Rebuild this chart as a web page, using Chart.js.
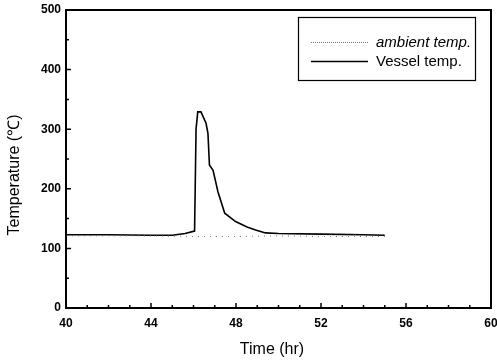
<!DOCTYPE html>
<html>
<head>
<meta charset="utf-8">
<script src="https://cdn.jsdelivr.net/npm/chart.js@4"></script>
<style>
  html, body { margin: 0; padding: 0; background: #fff; }
  #wrap { width: 497px; height: 361px; }
</style>
</head>
<body>
<div id="wrap"><canvas id="chart" width="497" height="361"></canvas></div>
<script>
// vessel temperature
var vesselTime = [40, 42, 44, 45, 45.6, 46.05, 46.08, 46.12, 46.2, 46.35, 46.59, 46.68, 46.75, 46.92, 47.15, 47.47, 47.98, 48.52, 48.92, 49.39, 50, 52, 54, 55];
var vesselTemp = [123, 123, 122, 122, 125, 129, 200, 300, 329, 329, 310, 293, 240, 231, 195, 159, 145, 136, 131, 126, 125, 124, 123, 122];
// ambient temperature, roughly flat
var ambientTime = [40, 44, 46, 48, 50, 52, 55];
var ambientTemp = [121, 121, 120, 120, 121, 120, 120];

var xTicks = [40, 44, 48, 52, 56, 60];
var yTicks = [0, 100, 200, 300, 400, 500];

function pts(xs, ys) {
    return xs.map(function (x, i) { return { x: x, y: ys[i] }; });
}

var FONT = "'Liberation Sans', Arial, sans-serif";

// frame, inward ticks, titles and boxed legend
var framePlugin = {
    id: 'frame',
    afterDraw: function (chart) {
        var ctx = chart.ctx, a = chart.chartArea;
        var xs = chart.scales.x, ys = chart.scales.y;
        ctx.save();
        ctx.strokeStyle = '#000';
        ctx.lineWidth = 2;
        ctx.strokeRect(a.left, a.top, a.right - a.left, a.bottom - a.top);

        ctx.lineWidth = 1.5;
        ctx.beginPath();
        for (var h = 41; h < 60; h++) {
            var len = (h % 4 === 0) ? 5 : 3;
            var px = xs.getPixelForValue(h);
            ctx.moveTo(px, a.bottom); ctx.lineTo(px, a.bottom - len);
        }
        for (var v = 50; v < 500; v += 50) {
            var l2 = (v % 100 === 0) ? 5 : 3;
            var py = ys.getPixelForValue(v);
            ctx.moveTo(a.left, py); ctx.lineTo(a.left + l2, py);
        }
        ctx.stroke();

        // axis titles
        ctx.fillStyle = '#000';
        ctx.font = '16px ' + FONT;
        ctx.textAlign = 'center';
        ctx.textBaseline = 'middle';
        ctx.fillText('Time (hr)', 272, 350);
        ctx.save();
        ctx.translate(15, 175);
        ctx.rotate(-Math.PI / 2);
        ctx.fillText('Temperature (\u2103)', 0, 0);
        ctx.restore();

        // legend
        ctx.lineWidth = 1.2;
        ctx.strokeRect(298.5, 17.5, 177, 63);
        ctx.textAlign = 'left';
        var rows = [42.5, 61.5];
        chart.data.datasets.forEach(function (ds, i) {
            ctx.save();
            ctx.strokeStyle = ds.borderColor;
            ctx.lineWidth = ds.borderWidth;
            ctx.setLineDash(ds.legendDash || []);
            ctx.beginPath();
            ctx.moveTo(311, rows[i]); ctx.lineTo(368, rows[i]);
            ctx.stroke();
            ctx.restore();
            ctx.font = (ds.italic ? 'italic ' : '') + '15px ' + FONT;
            ctx.fillText(ds.label, 376, rows[i]);
        });
        ctx.restore();
    }
};

new Chart(document.getElementById('chart'), {
    type: 'line',
    data: {
        datasets: [
            {
                label: 'ambient temp.',
                data: pts(ambientTime, ambientTemp),
                borderColor: '#777',
                borderWidth: 1,
                borderDash: [1, 5],
                legendDash: [1, 1],
                italic: true,
                pointRadius: 0,
                tension: 0
            },
            {
                label: 'Vessel temp.',
                data: pts(vesselTime, vesselTemp),
                borderColor: '#000',
                borderWidth: 1.6,
                pointRadius: 0,
                tension: 0
            }
        ]
    },
    options: {
        responsive: false,
        animation: false,
        layout: { padding: { top: 10, right: 6, left: 0, bottom: 0 } },
        plugins: { legend: { display: false }, tooltip: { enabled: false } },
        scales: {
            x: {
                type: 'linear',
                min: 40, max: 60,
                afterFit: function (s) { s.height = 53; s.paddingLeft = 0; s.paddingRight = 0; },
                afterBuildTicks: function (s) { s.ticks = xTicks.map(function (v) { return { value: v }; }); },
                grid: { display: false, drawTicks: false },
                border: { display: false },
                ticks: { padding: 8, color: '#000', maxRotation: 0, font: { family: FONT, size: 12, weight: 'bold' } }
            },
            y: {
                min: 0, max: 500,
                afterFit: function (s) { s.width = 66; s.paddingTop = 0; s.paddingBottom = 0; },
                afterBuildTicks: function (s) { s.ticks = yTicks.map(function (v) { return { value: v }; }); },
                grid: { display: false, drawTicks: false },
                border: { display: false },
                ticks: { padding: 5, color: '#000', font: { family: FONT, size: 12, weight: 'bold' } }
            }
        }
    },
    plugins: [framePlugin]
});
</script>
</body>
</html>
